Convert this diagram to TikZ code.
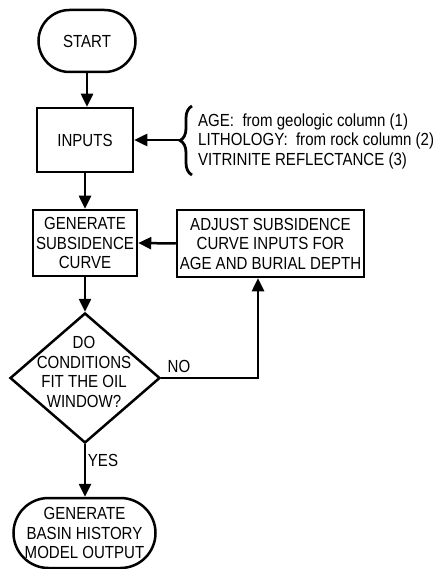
\documentclass[tikz,border=0pt]{standalone}
\usepackage{fontspec}
\setmainfont{Liberation Sans}[FakeStretch=0.86]
\usetikzlibrary{arrows.meta,shapes.geometric,decorations.pathreplacing}
\newcommand\lblfont{\fontsize{17.5}{19.5}\selectfont}
\begin{document}
\begin{tikzpicture}[x=1pt,y=-1pt,
  box/.style={draw, line width=2.5pt, inner sep=0pt, align=center, font=\lblfont},
  flow/.style={line width=2.5pt, -{Triangle[length=13pt,width=12pt]}},
  lbl/.style={inner sep=0pt, font=\lblfont}]
\useasboundingbox (0,0) rectangle (434,569);
\node[box, rounded corners=31pt, minimum width=97pt, minimum height=62pt] (start) at (87,41) {START};
\node[box, minimum width=96pt, minimum height=64pt] (inputs) at (85,140) {INPUTS};
\node[box, minimum width=104pt, minimum height=66pt] (gen) at (85,243) {GENERATE\\SUBSIDENCE\\CURVE};
\node[box, minimum width=187pt, minimum height=67pt] (adjust) at (270.5,243.5) {ADJUST SUBSIDENCE\\CURVE INPUTS FOR\\AGE AND BURIAL DEPTH};
\node[draw, diamond, line width=2.5pt, minimum width=150pt, minimum height=130pt, inner sep=0pt] (dec) at (85,378) {};
\node[lbl, align=center] (dectext) at (84,372) {DO\\CONDITIONS\\FIT THE OIL\\WINDOW?};
\node[box, rounded corners=35pt, minimum width=142pt, minimum height=70pt] (out) at (84.5,533) {GENERATE\\BASIN HISTORY\\MODEL OUTPUT};
\node[lbl, align=left, anchor=west] (src) at (198,141) {AGE:~~from geologic column (1)\\LITHOLOGY:~~from rock column (2)\\VITRINITE REFLECTANCE (3)};
\draw[line width=2.8pt, decorate, decoration={brace, amplitude=12pt}] (192,175) -- (192,106);
\coordinate (btip) at (180,140);
\coordinate (noturn) at (258,378);
\draw[flow] (start.south) -- (start.south |- inputs.north);
\draw[flow] (btip) -- (inputs.east);
\draw[flow] (inputs.south) -- (gen.north);
\draw[flow] (adjust.west) -- (gen.east);
\draw[flow] (gen.south) -- (gen.south |- dec.north);
\draw[flow] (dec.east) -- (noturn) -- (noturn |- adjust.south);
\draw[flow] (dec.south) -- (dec.south |- out.north);
\node[lbl] (nolbl) at (179,366) {NO};
\node[lbl] (yeslbl) at (103,460) {YES};
\end{tikzpicture}
\end{document}
